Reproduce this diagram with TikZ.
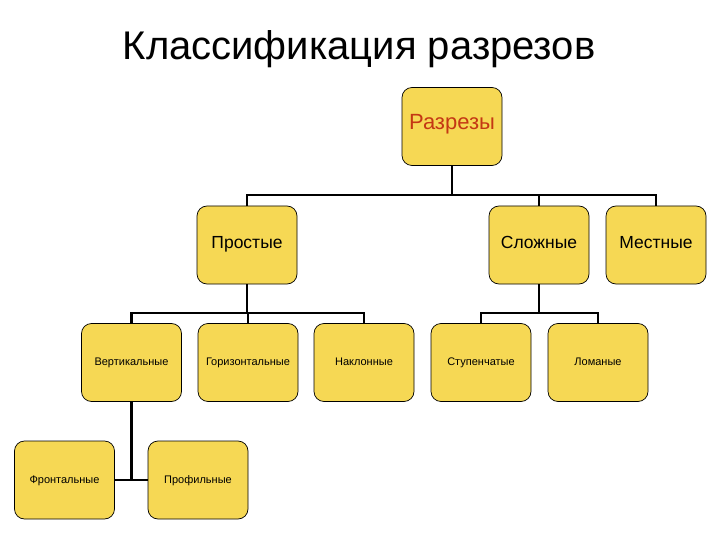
\documentclass[tikz,border=0pt]{standalone}
\usepackage{fontspec}
\setmainfont{Liberation Sans}
\usetikzlibrary{positioning}
\definecolor{boxfill}{RGB}{246,216,84}
\definecolor{toptext}{RGB}{196,56,20}

\begin{document}
\begin{tikzpicture}[
  x=1pt, y=-1pt,
  box/.style={draw, line width=0.7pt, rounded corners=10pt, fill=boxfill, minimum width=100pt, minimum height=78pt, inner sep=0pt, text height=1.5ex, text depth=0.3ex, font=\fontsize{11}{13}\selectfont},
  bigbox/.style={box, font=\fontsize{17.5}{20}\selectfont},
  link/.style={line width=2.2pt}
]
\useasboundingbox (0,0) rectangle (720,540);
\node[font=\fontsize{40}{46}\selectfont] (title) at (359,49) {Классификация разрезов};

\node[bigbox, text=toptext, font=\fontsize{22}{26}\selectfont] (razr) at (452,126.5) {Разрезы};
\node[bigbox] (prost) at (247,245) {Простые};
\node[bigbox] (slozh) at (539,245) {Сложные};
\node[bigbox] (mest) at (656,245) {Местные};

\node[box] (vert) at (131.5,362.5) {Вертикальные};
\node[box] (gor) at (248,362.5) {Горизонтальные};
\node[box] (nakl) at (364,362.5) {Наклонные};
\node[box] (stup) at (481,362.5) {Ступенчатые};
\node[box] (lom) at (598,362.5) {Ломаные};

\node[box] (front) at (64.5,480) {Фронтальные};
\node[box] (prof) at (198,480) {Профильные};

% tree links
\coordinate (j1) at (452,195);
\coordinate (j2) at (247,313);
\coordinate (j3) at (539,313);
\draw[link] (razr.south) -- (j1);
\draw[link] (prost.north) |- (j1) -| (mest.north);
\draw[link] (j1) -| (slozh.north);
\draw[link] (prost.south) -- (j2);
\draw[link] (vert.north) |- (j2) -| (nakl.north);
\draw[link] (j2) -| (gor.north);
\draw[link] (slozh.south) -- (j3);
\draw[link] (stup.north) |- (j3) -| (lom.north);
\draw[link] (front.east) -- (prof.west);
\draw[link] (vert.south) -- (vert.south |- front.east);
\end{tikzpicture}
\end{document}
